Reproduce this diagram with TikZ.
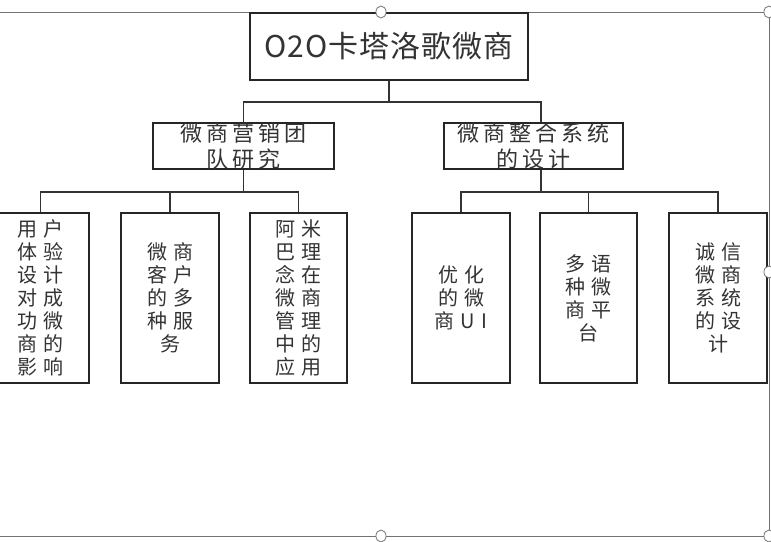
\documentclass[tikz,border=0pt]{standalone}
\usepackage{fontspec}
\usepackage{tikz}
\usetikzlibrary{calc}
\newfontfamily\cjktop[LetterSpace=3]{Noto Sans CJK SC}
\newfontfamily\cjkmid[LetterSpace=18]{Noto Sans CJK SC}
\newfontfamily\cjkleaf[LetterSpace=30]{Noto Sans CJK SC}

\begin{document}
\begin{tikzpicture}[x=0.75pt,y=-0.75pt,
		box/.style={draw=black!85,line width=1.6pt,rectangle,inner sep=0pt,align=center,text=black!80},
		mid/.style={box,minimum height=34.5pt,font=\cjkmid\fontsize{16.5}{19.5}\selectfont},
		leaf/.style={box,minimum width=73pt,minimum height=127.5pt,font=\cjkleaf\fontsize{15}{17.25}\selectfont},
		link/.style={draw=black!80,line width=1.2pt},
		frame/.style={draw=black!55,line width=0.6pt},
		handle/.style={draw=black!55,line width=0.6pt,fill=white}]
			\useasboundingbox (0,0) rectangle (771,542);
			\clip (0,0) rectangle (771,542);
			\draw[frame] (-10,12) -- (769,12) -- (769,536) -- (-10,536);
			\node[box,minimum width=208.5pt,minimum height=50.25pt,font=\cjktop\fontsize{22.5}{26}\selectfont] (O2O) at (389,46.5) {O2O卡塔洛歌微商};
			\node[mid,minimum width=135.75pt] (Team) at (243.5,146) {微商营销团\\队研究};
			\node[mid,minimum width=134.25pt] (Sys) at (533.5,146) {微商整合系统\\的设计};
			\node[leaf] (UX) at (40.5,298) {用户\\体验\\设计\\对成\\功微\\商的\\影响};
			\node[leaf] (Serv) at (170,298) {微商\\客户\\的多\\种服\\务};
			\node[leaf] (Amoeba) at (298.5,298) {阿米\\巴理\\念在\\微商\\管理\\中的\\应用};
			\node[leaf] (UI) at (461,298) {优化\\的微\\商UI};
			\node[leaf] (Lang) at (588.5,298) {多语\\种微\\商平\\台};
			\node[leaf] (Trust) at (718,298) {诚信\\微商\\系统\\的设\\计};
			\draw[link] (O2O.south) -- ++(0,21) -| (Team.north);
			\draw[link] (O2O.south) -- ++(0,21) -| ($(Sys.north)+(7.5,0)$);
			\draw[link] (Team.south) -- ++(0,22) -| (UX.north);
			\draw[link] (Team.south) -- ++(0,22) -| (Amoeba.north);
			\draw[link] (Team.south) ++(0,22) -| (Serv.north);
			\draw[link] ($(Sys.south)+(7.5,0)$) -- ++(0,22) -| (UI.north);
			\draw[link] ($(Sys.south)+(7.5,0)$) -- ++(0,22) -| (Trust.north);
			\draw[link] ($(Sys.south)+(7.5,22)$) -| (Lang.north);
			\draw[handle] (381,12) ellipse [x radius=3.8pt,y radius=4.5pt];
			\draw[handle] (381,536) ellipse [x radius=3.8pt,y radius=4.5pt];
			\draw[handle] (769,12) ellipse [x radius=3.8pt,y radius=4.5pt];
			\draw[handle] (769,272) ellipse [x radius=3.8pt,y radius=4.5pt];
			\draw[handle] (769,536) ellipse [x radius=3.8pt,y radius=4.5pt];
		\end{tikzpicture}
\end{document}
